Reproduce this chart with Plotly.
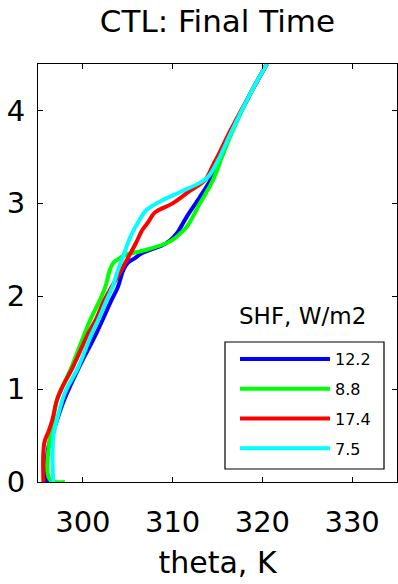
import plotly.graph_objects as go

# Potential-temperature profiles (theta in K vs height in km) for four runs,
# labelled by their surface sensible heat flux (W/m2).
shf_labels = ["12.2", "8.8", "17.4", "7.5"]
line_colors = ["#0000FF", "#00FF00", "#FF0000", "#00FFFF"]

z_blue = [0.0, 0.35, 0.6, 0.88, 1.24, 1.6, 1.96, 2.10, 2.28, 2.36, 2.41, 2.46,
          2.50, 2.54, 2.60, 2.68, 2.76, 2.86, 3.07, 3.25, 3.47, 3.74, 4.17, 4.5]
theta_blue = [296.0, 296.1, 296.9, 297.9, 299.6, 301.5, 303.2, 303.9, 304.5, 305.0,
              305.8, 306.5, 307.5, 308.7, 309.7, 310.5, 311.0, 311.6, 313.05, 314.2,
              315.2, 316.4, 318.6, 320.5]

z_green = [0.0, 0.03, 0.46, 0.6, 0.88, 1.24, 1.6, 1.74, 1.96, 2.10, 2.28, 2.36,
           2.41, 2.44, 2.50, 2.57, 2.62, 2.68, 2.75, 3.0, 3.25, 3.50, 3.74, 4.17, 4.5]
theta_green = [298.0, 296.3, 296.3, 296.6, 297.1, 298.75, 300.2, 300.8, 301.9, 302.5,
               303.0, 303.4, 304.1, 304.6, 307.1, 309.3, 310.2, 310.9, 311.6, 313.05,
               314.5, 315.5, 316.5, 318.6, 320.5]

z_red = [0.0, 0.42, 0.55, 0.67, 0.88, 1.0, 1.24, 1.6, 1.74, 1.96, 2.10, 2.25, 2.39,
         2.57, 2.71, 2.80, 2.90, 3.00, 3.14, 3.25, 3.43, 3.56, 3.74, 4.17, 4.5]
theta_red = [295.6, 295.7, 296.2, 296.6, 297.1, 297.6, 298.9, 300.6, 301.4, 302.4,
             303.2, 304.1, 304.9, 305.9, 306.6, 307.3, 308.0, 310.0, 312.0, 313.6,
             314.6, 315.3, 316.2, 318.6, 320.5]

z_cyan = [0.0, 0.48, 0.74, 0.96, 1.24, 1.6, 1.74, 1.96, 2.10, 2.28, 2.46, 2.64,
          2.82, 2.93, 3.04, 3.12, 3.22, 3.29, 3.47, 3.57, 3.74, 4.17, 4.5]
theta_cyan = [296.7, 296.7, 297.3, 298.0, 299.5, 301.0, 301.7, 302.65, 303.3, 303.9,
              304.6, 305.3, 306.3, 307.1, 309.0, 310.8, 313.0, 314.0, 315.1, 315.6,
              316.4, 318.6, 320.5]

x_ticks = [300, 310, 320, 330]
y_ticks = [0, 1, 2, 3, 4]

profiles = [(theta_blue, z_blue), (theta_green, z_green),
            (theta_red, z_red), (theta_cyan, z_cyan)]

FONT = "DejaVu Sans"

# plot-area geometry in pixels, used to place the legend frame and its heading
PLOT_L, PLOT_R, PLOT_T, PLOT_B = 38, 397, 64, 482


def px_to_paper_x(px):
    return (px - PLOT_L) / (PLOT_R - PLOT_L)


def px_to_paper_y(py):
    return (PLOT_B - py) / (PLOT_B - PLOT_T)


fig = go.Figure()
for (theta, z), label, color in zip(profiles, shf_labels, line_colors):
    fig.add_trace(go.Scatter(
        x=theta, y=z, mode="lines", name=label, legendgroup=label,
        line=dict(color=color, width=4, shape="spline", smoothing=1.0),
    ))

axis_common = dict(
    showline=True, linecolor="black", linewidth=1, mirror="ticks",
    ticks="inside", ticklen=5, tickcolor="black", tickwidth=1,
    showgrid=False, zeroline=False,
    tickfont=dict(family=FONT, size=29, color="black"),
)

fig.update_layout(
    width=398, height=584,
    margin=dict(l=PLOT_L, r=398 - PLOT_R, t=PLOT_T, b=584 - PLOT_B),
    paper_bgcolor="white", plot_bgcolor="white",
    title=dict(text="CTL: Final Time", x=0.5465, xanchor="center",
               y=1 - 21 / 584, yanchor="middle", yref="container",
               font=dict(family=FONT, size=31, color="black")),
    xaxis=dict(range=[295, 335], tickvals=x_ticks, ticklabelstandoff=14,
               title=dict(text="theta, K", standoff=14,
                          font=dict(family=FONT, size=30, color="black")),
               **axis_common),
    yaxis=dict(range=[0, 4.5], tickvals=y_ticks, ticklabelstandoff=6,
               **axis_common),
    showlegend=True,
    legend=dict(
        x=px_to_paper_x(235), y=px_to_paper_y(342), xanchor="left", yanchor="top",
        bgcolor="rgba(0,0,0,0)", borderwidth=0,
        font=dict(family=FONT, size=16, color="black"),
        itemwidth=90, tracegroupgap=6, traceorder="grouped",
    ),
    shapes=[dict(
        type="rect", xref="paper", yref="paper", layer="below",
        x0=px_to_paper_x(225), x1=px_to_paper_x(384),
        y0=px_to_paper_y(469), y1=px_to_paper_y(342),
        line=dict(color="black", width=1.2), fillcolor="white",
    )],
    annotations=[dict(
        text="SHF, W/m2", xref="paper", yref="paper",
        x=px_to_paper_x(302), y=px_to_paper_y(316),
        xanchor="center", yanchor="middle", showarrow=False,
        font=dict(family=FONT, size=23, color="black"),
    )],
)

fig.write_html("out.html")
